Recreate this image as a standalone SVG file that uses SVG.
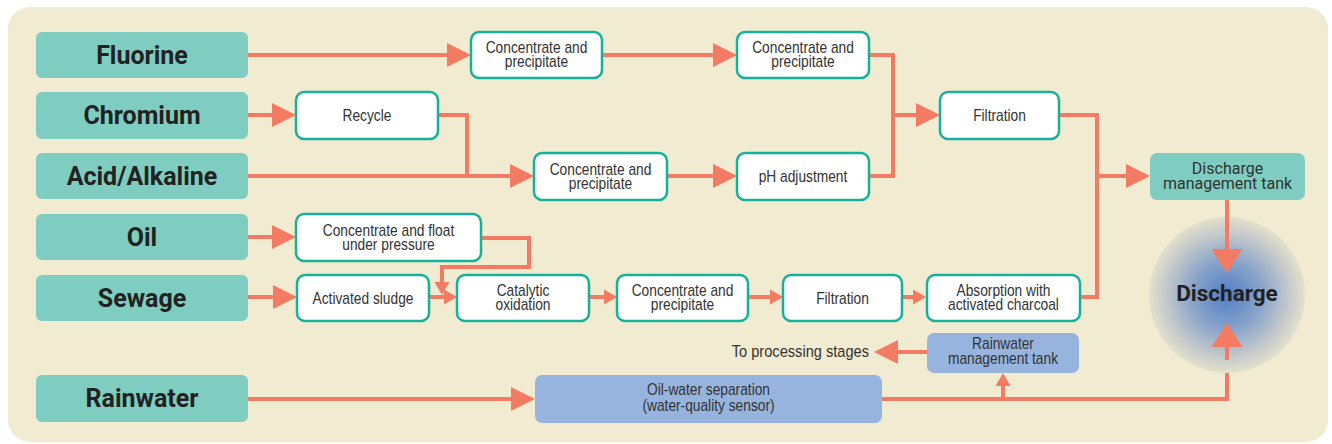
<svg xmlns="http://www.w3.org/2000/svg" width="1332" height="444" viewBox="0 0 1332 444">
<defs>
<style>
.src rect{fill:#7ecdc0}
.src text{font-family:Roboto,'Liberation Sans',sans-serif;font-weight:bold;font-size:25px;fill:#222;text-anchor:middle}
.proc rect{fill:#fff;stroke:#14b19b;stroke-width:2.5}
.proc text,.blue text,.lbl{font-family:'Liberation Sans',Arial,sans-serif;font-size:16px;fill:#333;text-anchor:middle}
.blue rect{fill:#97b4df}
.tank rect{fill:#7ecdc0}
.tank text{font-family:Roboto,'Liberation Sans',sans-serif;font-size:16px;fill:#333;text-anchor:middle}
.dis text{font-family:Roboto,'Liberation Sans',sans-serif;font-weight:bold;font-size:22.5px;fill:#222;text-anchor:middle}
#connectors path,#dis-arrows path{fill:none;stroke:#f37b64;stroke-width:4}
.big{marker-end:url(#ah)}
.lg{marker-end:url(#ahl)}
.sm{marker-end:url(#ahs)}
</style>
<marker id="ah" markerUnits="userSpaceOnUse" viewBox="0 0 24 24" refX="0" refY="12" markerWidth="24" markerHeight="24" orient="auto" overflow="visible"><path d="M0,0 L24,12 L0,24 z" fill="#f37b64"/></marker>
<marker id="ahl" markerUnits="userSpaceOnUse" viewBox="0 0 24 31" refX="0" refY="15.5" markerWidth="24" markerHeight="31" orient="auto" overflow="visible"><path d="M0,0 L24,15.5 L0,31 z" fill="#f37b64"/></marker>
<marker id="ahs" markerUnits="userSpaceOnUse" viewBox="0 0 13 15" refX="0" refY="7.5" markerWidth="13" markerHeight="15" orient="auto" overflow="visible"><path d="M0,0 L13,7.5 L0,15 z" fill="#f37b64"/></marker>
<radialGradient id="glow" cx="0.5" cy="0.5" r="0.5">
<stop offset="0" stop-color="#4f7fc7"/>
<stop offset="0.45" stop-color="#8aa4c9"/>
<stop offset="0.8" stop-color="#c6cacb"/>
<stop offset="1" stop-color="#e4e0cb"/>
</radialGradient>
</defs>
<rect x="8" y="7" width="1320" height="435" rx="22" fill="#f1ebd1"/>

<g id="connectors">
<path class="big" d="M248,55 H447"/>
<path class="big" d="M602,55 H713"/>
<path class="big" d="M248,115 H272"/>
<path d="M438,115 H467 V176"/>
<path class="big" d="M248,176 H510"/>
<path class="big" d="M667,176 H713"/>
<path d="M869,55 H893 V176 H869"/>
<path class="big" d="M893,115 H916"/>
<path d="M1059,115 H1097 V297 H1080"/>
<path class="big" d="M1097,176 H1126"/>
<path class="big" d="M248,237 H272"/>
<path class="sm" d="M481,238 H529 V267 H442 V282"/>
<path class="big" d="M248,297 H273"/>
<path class="sm" d="M429,297 H444"/>
<path class="sm" d="M589,297 H604"/>
<path class="sm" d="M748,297 H770"/>
<path class="sm" d="M902,297 H913"/>
<path class="big" d="M248,399 H511"/>
<path d="M882,399 H1227 V360"/>
<path class="sm" d="M1003,399 V386"/>
<path class="big" d="M927,352 H898"/>
</g>

<g id="discharge" class="dis">
<circle cx="1227" cy="295" r="78" fill="url(#glow)"/>
<text x="1227" y="301">Discharge</text>
</g>
<g id="dis-arrows">
<path class="lg" d="M1227,200 V249"/>
<path class="lg" d="M1227,360 V347"/>
</g>

<g id="fluorine" class="src"><rect x="36" y="32" width="212" height="46" rx="6"/><text x="142" y="63.5">Fluorine</text></g>
<g id="chromium" class="src"><rect x="36" y="92" width="212" height="47" rx="6"/><text x="142" y="124">Chromium</text></g>
<g id="acid" class="src"><rect x="36" y="153" width="212" height="46" rx="6"/><text x="142" y="184.5">Acid/Alkaline</text></g>
<g id="oil" class="src"><rect x="36" y="214" width="212" height="46" rx="6"/><text x="142" y="245.5">Oil</text></g>
<g id="sewage" class="src"><rect x="36" y="275" width="212" height="46" rx="6"/><text x="142" y="306.5">Sewage</text></g>
<g id="rainwater" class="src"><rect x="36" y="375" width="212" height="47" rx="6"/><text x="142" y="407">Rainwater</text></g>

<g id="cp1" class="proc"><rect x="471" y="32" width="131" height="46" rx="8"/><text transform="translate(536.5 53) scale(0.86 1)">Concentrate and</text><text transform="translate(536.5 67) scale(0.86 1)">precipitate</text></g>
<g id="cp2" class="proc"><rect x="737" y="32" width="132" height="46" rx="8"/><text transform="translate(803 53) scale(0.86 1)">Concentrate and</text><text transform="translate(803 67) scale(0.86 1)">precipitate</text></g>
<g id="recycle" class="proc"><rect x="296" y="92" width="142" height="47" rx="8"/><text transform="translate(367 121) scale(0.86 1)">Recycle</text></g>
<g id="filtration1" class="proc"><rect x="940" y="92" width="119" height="47" rx="8"/><text transform="translate(999.5 121) scale(0.86 1)">Filtration</text></g>
<g id="cp3" class="proc"><rect x="534" y="153" width="133" height="47" rx="8"/><text transform="translate(600.5 174.5) scale(0.86 1)">Concentrate and</text><text transform="translate(600.5 188.5) scale(0.86 1)">precipitate</text></g>
<g id="ph" class="proc"><rect x="737" y="153" width="132" height="47" rx="8"/><text transform="translate(803 182) scale(0.86 1)">pH adjustment</text></g>
<g id="float" class="proc"><rect x="296" y="214" width="185" height="47" rx="8"/><text transform="translate(388.5 235.5) scale(0.86 1)">Concentrate and float</text><text transform="translate(388.5 249.5) scale(0.86 1)">under pressure</text></g>
<g id="sludge" class="proc"><rect x="297" y="275" width="132" height="46" rx="8"/><text transform="translate(363 303.5) scale(0.86 1)">Activated sludge</text></g>
<g id="catalytic" class="proc"><rect x="457" y="275" width="132" height="46" rx="8"/><text transform="translate(523 296) scale(0.86 1)">Catalytic</text><text transform="translate(523 310) scale(0.86 1)">oxidation</text></g>
<g id="cp4" class="proc"><rect x="617" y="275" width="131" height="46" rx="8"/><text transform="translate(682.5 296) scale(0.86 1)">Concentrate and</text><text transform="translate(682.5 310) scale(0.86 1)">precipitate</text></g>
<g id="filtration2" class="proc"><rect x="783" y="275" width="119" height="46" rx="8"/><text transform="translate(842.5 303.5) scale(0.86 1)">Filtration</text></g>
<g id="absorption" class="proc"><rect x="927" y="275" width="153" height="46" rx="8"/><text transform="translate(1003.5 296) scale(0.86 1)">Absorption with</text><text transform="translate(1003.5 310) scale(0.86 1)">activated charcoal</text></g>

<g id="dtank" class="tank"><rect x="1150" y="153" width="155" height="47" rx="7"/><text x="1227.5" y="173.5">Discharge</text><text x="1227.5" y="188.5">management tank</text></g>
<g id="rtank" class="blue"><rect x="927" y="333" width="152" height="40" rx="7"/><text transform="translate(1003 348.5) scale(0.86 1)">Rainwater</text><text transform="translate(1003 364) scale(0.86 1)">management tank</text></g>
<g id="ows" class="blue"><rect x="535" y="375" width="347" height="48" rx="7"/><text transform="translate(708.5 395) scale(0.86 1)">Oil-water separation</text><text transform="translate(708.5 410.5) scale(0.86 1)">(water-quality sensor)</text></g>

<text id="to-processing" class="lbl" transform="translate(869 357) scale(0.86 1)" style="text-anchor:end;font-size:17px">To processing stages</text>
</svg>
